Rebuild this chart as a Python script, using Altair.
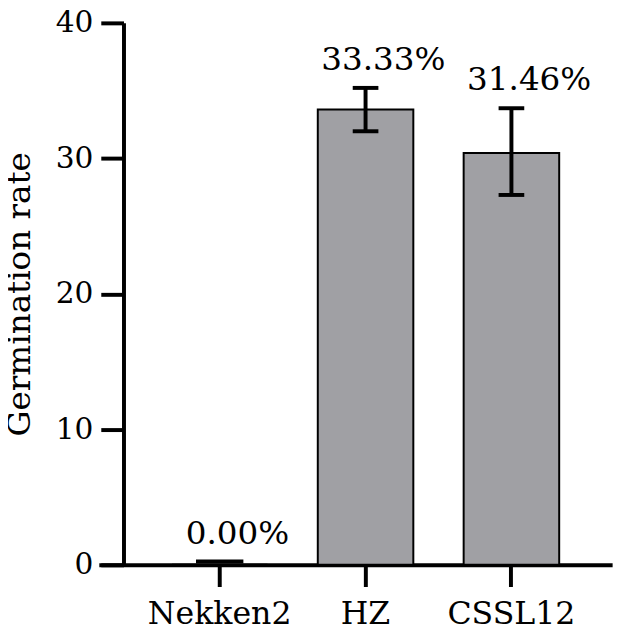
import altair as alt
import pandas as pd

categories = ["Nekken2", "HZ", "CSSL12"]
means = [0.0, 33.6, 30.4]
err_low = [0.25, 32.0, 27.3]
err_high = [0.25, 35.2, 33.7]
labels = ["0.00%", "33.33%", "31.46%"]

df = pd.DataFrame({
    "cat": categories,
    "mean": means,
    "low": err_low,
    "high": err_high,
    "label": labels,
})

FONT = "DejaVu Serif"

x = alt.X(
    "cat:N",
    sort=categories,
    scale=alt.Scale(paddingInner=0.345, paddingOuter=0.432, align=0.58),
    axis=alt.Axis(
        title=None,
        labelAngle=0,
        labelFont=FONT,
        labelFontSize=32,
        labelColor="black",
        labelPadding=12,
        tickSize=22,
        tickWidth=4,
        tickColor="black",
        domainWidth=4,
        domainColor="black",
    ),
)

yscale = alt.Scale(domain=[0, 40], nice=False)

bars = alt.Chart(df).mark_bar(
    color="#A0A0A4", stroke="black", strokeWidth=2
).encode(
    x=x,
    y=alt.Y(
        "mean:Q",
        scale=yscale,
        axis=alt.Axis(
            title="Germination rate",
            values=[0, 10, 20, 30, 40],
            grid=False,
            offset=-25,
            labelFont=FONT,
            labelFontSize=30,
            labelColor="black",
            labelPadding=8,
            tickSize=23,
            tickWidth=4,
            tickColor="black",
            domainWidth=4,
            domainColor="black",
            titleFont=FONT,
            titleFontSize=33,
            titleFontWeight="normal",
            titleColor="black",
            titlePadding=19,
        ),
    ),
)

err = df[df["cat"] != "Nekken2"]

stems = alt.Chart(err).mark_rule(color="black", strokeWidth=4).encode(
    x=alt.X("cat:N", sort=categories),
    y=alt.Y("low:Q", scale=yscale),
    y2="high:Q",
)

caps_low = alt.Chart(err).mark_tick(color="black", opacity=1, thickness=4, size=26, orient="horizontal").encode(
    x=alt.X("cat:N", sort=categories),
    y=alt.Y("low:Q", scale=yscale),
)
caps_high = alt.Chart(err).mark_tick(color="black", opacity=1, thickness=4, size=26, orient="horizontal").encode(
    x=alt.X("cat:N", sort=categories),
    y=alt.Y("high:Q", scale=yscale),
)

zero = df[df["cat"] == "Nekken2"]
zero_cap = alt.Chart(zero).mark_tick(color="black", opacity=1, thickness=4, size=48, orient="horizontal").encode(
    x=alt.X("cat:N", sort=categories),
    y=alt.Y("high:Q", scale=yscale),
)

text = alt.Chart(df).mark_text(
    font=FONT, fontSize=33, color="black", baseline="alphabetic", dx=18, dy=-18
).encode(
    x=alt.X("cat:N", sort=categories),
    y=alt.Y("high:Q", scale=yscale),
    text="label:N",
)

chart = alt.layer(bars, stems, caps_low, caps_high, zero_cap, text).properties(
    width=520,
    height=549,
    background="white",
    autosize=alt.AutoSizeParams(type="none"),
    padding={"left": 92, "top": 11, "right": 10, "bottom": 65},
).configure_view(stroke=None)

chart.save("out.html", embed_options={"renderer": "svg", "actions": False})
